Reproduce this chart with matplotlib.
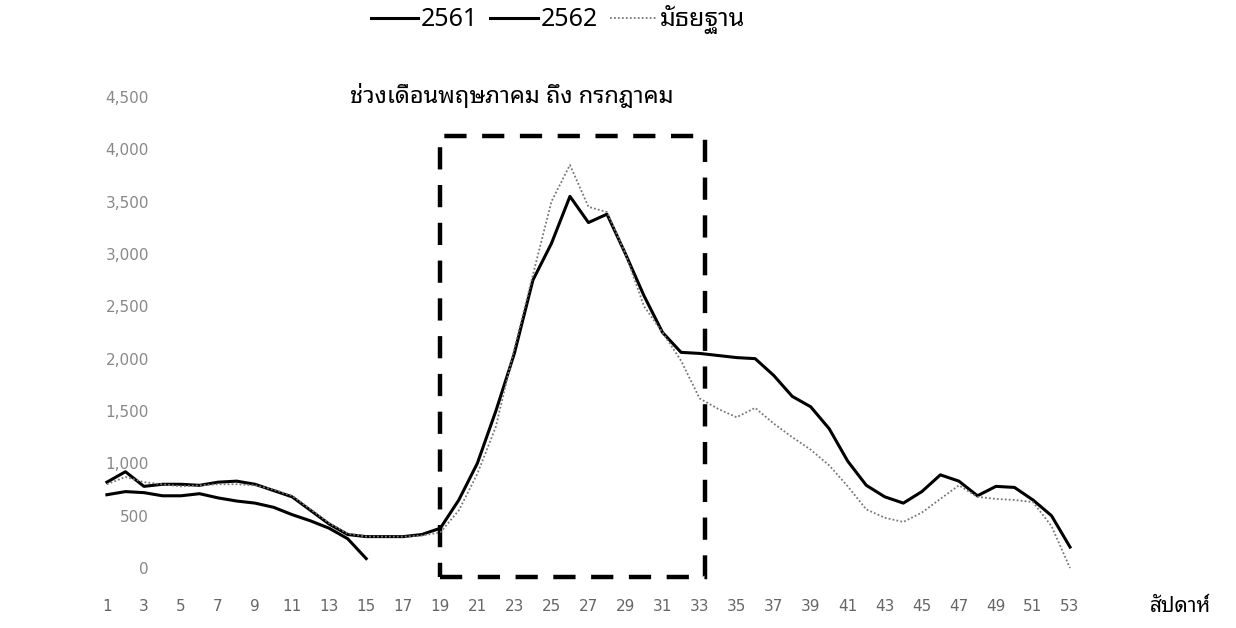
import matplotlib
matplotlib.use("Agg")
import matplotlib.pyplot as plt
from matplotlib.patches import Rectangle
from matplotlib.ticker import FuncFormatter

THAI = ["Noto Sans Thai Looped", "DejaVu Sans"]
plt.rcParams["font.family"] = THAI

weeks = list(range(1, 54))
weeks_2562 = list(range(1, 16))

y2561 = [820, 920, 780, 800, 800, 790, 820, 830, 800, 740,
         680, 550, 420, 320, 300, 300, 300, 320, 380, 650,
         1000, 1500, 2050, 2750, 3100, 3550, 3300, 3380, 3000, 2600,
         2250, 2060, 2050, 2030, 2010, 2000, 1840, 1640, 1540, 1330,
         1020, 790, 680, 620, 730, 890, 830, 690, 780, 770,
         650, 500, 200]
y2562 = [700, 730, 720, 690, 690, 710, 670, 640, 620, 580,
         510, 450, 380, 280, 90]
median = [800, 870, 820, 800, 780, 790, 800, 800, 790, 750,
          690, 560, 430, 330, 300, 300, 300, 310, 340, 550,
          900, 1350, 2100, 2800, 3500, 3850, 3450, 3400, 3000, 2500,
          2250, 1980, 1620, 1520, 1440, 1530, 1380, 1250, 1130, 980,
          780, 560, 480, 440, 530, 660, 790, 680, 660, 650,
          630, 400, 0]

y_ticks = [0, 500, 1000, 1500, 2000, 2500, 3000, 3500, 4000, 4500]
x_ticks = list(range(1, 54, 2))
box_weeks = (19, 33.3)
box_values = (-90, 4130)

title = "ช่วงเดือนพฤษภาคม ถึง กรกฎาคม"
xlabel = "สัปดาห์"

fig = plt.figure(figsize=(12.36, 6.28), dpi=100)
ax = fig.add_axes([0.079, 0.0705, 0.8017, 0.8085])

ax.plot(weeks, y2561, color="black", lw=2.2, label="2561", solid_joinstyle="round")
ax.plot(weeks_2562, y2562, color="black", lw=2.2, label="2562", solid_joinstyle="round")
ax.plot(weeks, median, color="#777777", lw=1.3, ls=(0, (1, 1.2)), label="มัธยฐาน")

ax.add_patch(Rectangle((box_weeks[0], box_values[0]), box_weeks[1] - box_weeks[0],
                       box_values[1] - box_values[0], fill=False, ec="black",
                       lw=3.2, ls=(0, (5, 3.5))))

ax.set_xlim(0.5, 54)
ax.set_ylim(-150, 4700)
ax.set_yticks(y_ticks)
ax.yaxis.set_major_formatter(FuncFormatter(lambda v, p: f"{int(v):,}"))
ax.set_xticks(x_ticks)
ax.tick_params(axis="y", length=0, pad=-37, labelsize=11, labelcolor="#888888")
ax.tick_params(axis="x", length=0, pad=11, labelsize=11, labelcolor="#666666")
for lab in ax.get_yticklabels() + ax.get_xticklabels():
    lab.set_family(["DejaVu Sans"])
for s in ax.spines.values():
    s.set_visible(False)

fig.text(512 / 1236, 1 - 97 / 628, title, ha="center", va="center",
         fontsize=17, fontweight="bold")
fig.text(1180 / 1236, 1 - 606 / 628, xlabel, ha="center", va="center",
         fontsize=15, fontweight="bold")

fig.legend(loc="center", bbox_to_anchor=(558 / 1236, 1 - 20 / 628), ncol=3,
           frameon=False, fontsize=18, handlelength=1.9, handletextpad=0.1,
           columnspacing=0.5)

fig.savefig("out.png", dpi=100)
